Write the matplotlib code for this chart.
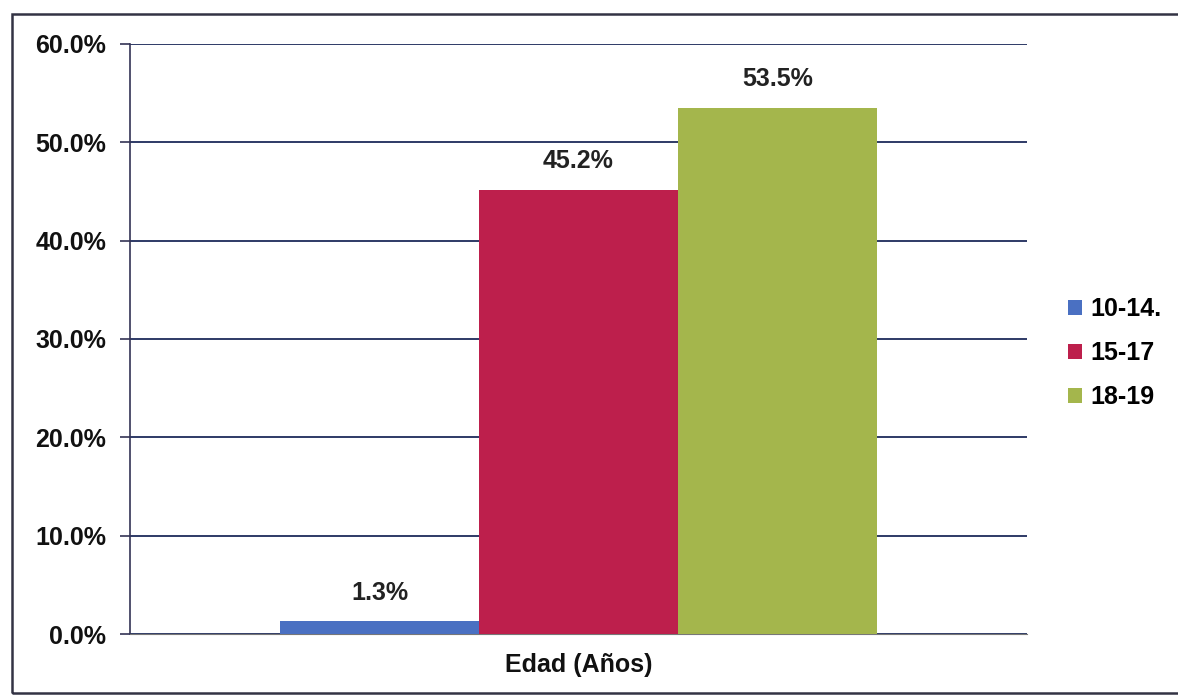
import matplotlib.pyplot as plt
from matplotlib.patches import Rectangle

# data
groups = ['10-14.', '15-17', '18-19']
values = [1.3, 45.2, 53.5]
category = 'Edad (Años)'
colors = ['#4a70c2', '#bd1f4c', '#a4b64c']

plt.rcParams['font.family'] = ['Liberation Sans', 'DejaVu Sans']

fig = plt.figure(figsize=(11.78, 6.95), dpi=100)
ax = fig.add_axes([130 / 1178, 1 - 634 / 695, 897 / 1178, 590 / 695])

# outer frame of the chart
fig.patches.append(Rectangle((12 / 1178, 2 / 695), 1.2, 679 / 695, transform=fig.transFigure,
                             fill=False, edgecolor='#333344', linewidth=1.8))

pos = [-1, 0, 1]
for p, v, c, g in zip(pos, values, colors, groups):
    ax.bar(p, v, width=1.0, color=c, label=g, zorder=3)
    ax.text(p, v + 1.7, '{:.1f}%'.format(v), ha='center', va='bottom',
            fontsize=18, fontweight='bold', color='#222222')

ax.set_ylim(0, 60)
ax.set_xlim(-2.254, 2.254)
ax.set_yticks(range(0, 61, 10))
ax.set_yticklabels(['{:.1f}%'.format(t) for t in range(0, 61, 10)],
                   fontsize=18, fontweight='bold', color='#111111')
ax.set_xticks([0])
ax.set_xticklabels([category], fontsize=18, fontweight='bold', color='#111111')
ax.tick_params(axis='x', length=0, pad=14)
ax.tick_params(axis='y', length=7, width=1.2, color='#333355', pad=10)

ax.grid(axis='y', color='#2e3a66', linewidth=1.4, zorder=1)
for s in ['top', 'right']:
    ax.spines[s].set_visible(False)
ax.spines['left'].set_color('#333355')
ax.spines['left'].set_linewidth(1.2)
ax.spines['bottom'].set_color('#777777')

fig.legend(loc='center left', bbox_to_anchor=(1068 / 1178, 1 - 353 / 695), frameon=False,
           prop={'size': 18, 'weight': 'bold'}, handlelength=0.56, handleheight=0.56,
           handletextpad=0.32, labelspacing=0.8, borderpad=0, borderaxespad=0)

fig.savefig('out.png', dpi=100)
